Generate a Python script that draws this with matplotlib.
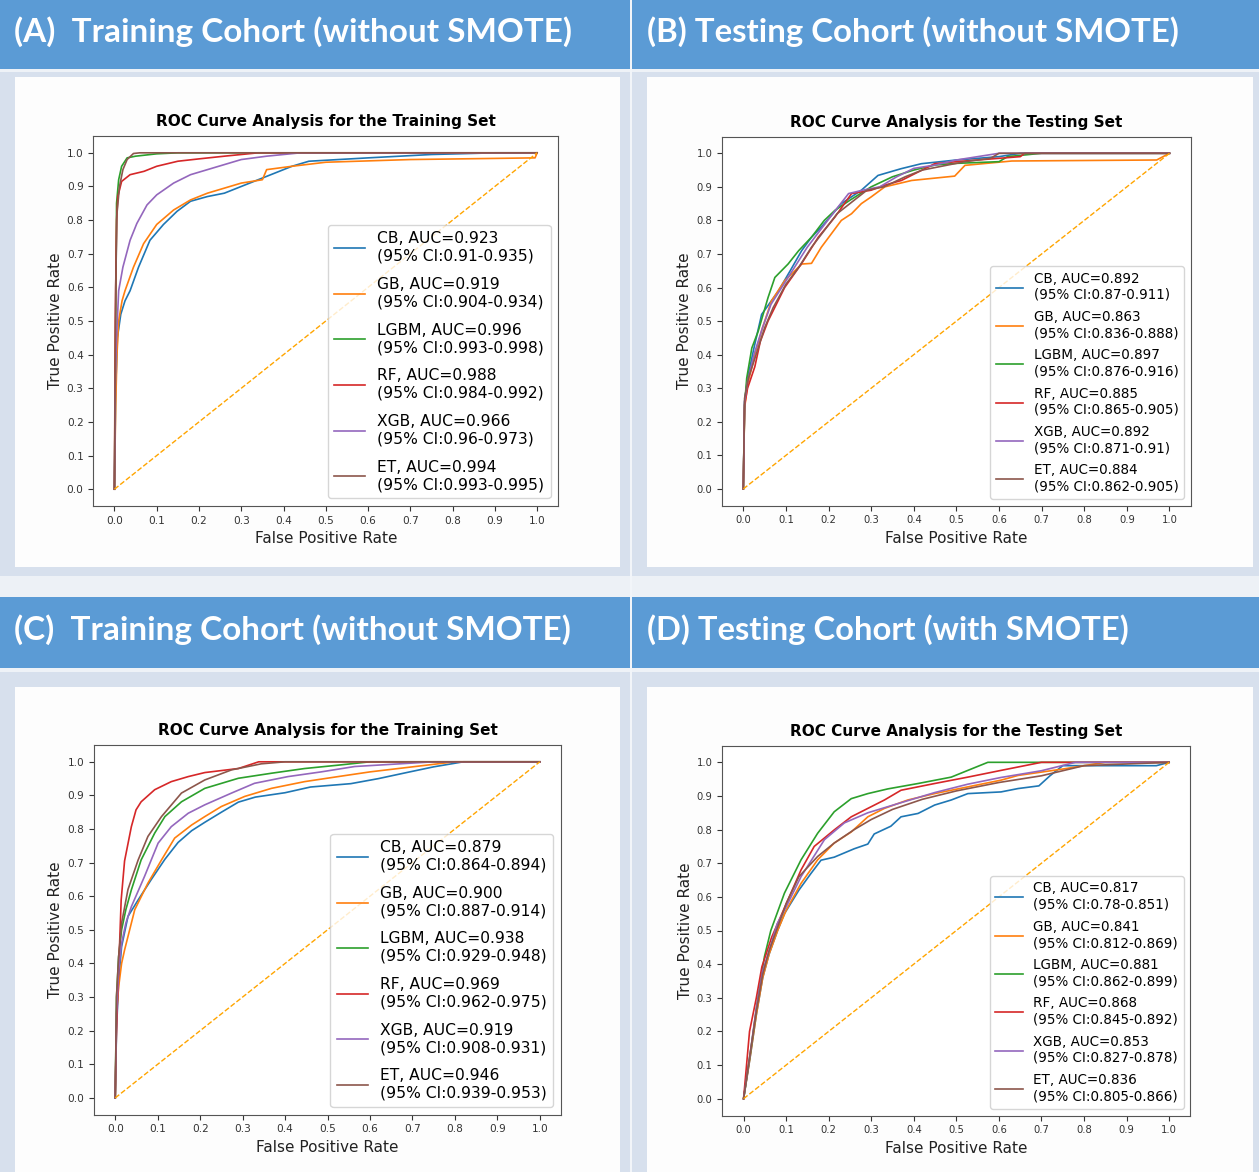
import numpy as np
import matplotlib.pyplot as plt
from matplotlib.patches import Rectangle

W, H = 1259, 1172

models = ["CB", "GB", "LGBM", "RF", "XGB", "ET"]
colors = ["tab:blue", "tab:orange", "tab:green", "tab:red", "tab:purple", "tab:brown"]

headers = ["(A)  Training Cohort (without SMOTE)",
           "(B) Testing Cohort (without SMOTE)",
           "(C)  Training Cohort (without SMOTE)",
           "(D) Testing Cohort (with SMOTE)"]
titles = ["ROC Curve Analysis for the Training Set",
          "ROC Curve Analysis for the Testing Set",
          "ROC Curve Analysis for the Training Set",
          "ROC Curve Analysis for the Testing Set"]

auc_a = [0.923, 0.919, 0.996, 0.988, 0.966, 0.994]
ci_a = ["0.91-0.935", "0.904-0.934", "0.993-0.998", "0.984-0.992", "0.96-0.973", "0.993-0.995"]
auc_b = [0.892, 0.863, 0.897, 0.885, 0.892, 0.884]
ci_b = ["0.87-0.911", "0.836-0.888", "0.876-0.916", "0.865-0.905", "0.871-0.91", "0.862-0.905"]
auc_c = [0.879, 0.900, 0.938, 0.969, 0.919, 0.946]
ci_c = ["0.864-0.894", "0.887-0.914", "0.929-0.948", "0.962-0.975", "0.908-0.931", "0.939-0.953"]
auc_d = [0.817, 0.841, 0.881, 0.868, 0.853, 0.836]
ci_d = ["0.78-0.851", "0.812-0.869", "0.862-0.899", "0.845-0.892", "0.827-0.878", "0.805-0.866"]

# ROC points (fpr, tpr)
# panel A
fpr_a_cb = [0, 0.003, 0.007, 0.015, 0.025, 0.037, 0.057, 0.084, 0.116, 0.148, 0.18, 0.22, 0.26, 0.30, 0.34, 0.36, 0.39, 0.42, 0.46, 0.6, 0.75, 0.9, 1.0]
tpr_a_cb = [0, 0.30, 0.45, 0.52, 0.56, 0.59, 0.66, 0.74, 0.787, 0.826, 0.856, 0.87, 0.88, 0.90, 0.92, 0.93, 0.945, 0.96, 0.975, 0.985, 0.995, 1.0, 1.0]
fpr_a_gb = [0, 0.003, 0.006, 0.01, 0.018, 0.025, 0.045, 0.069, 0.1, 0.14, 0.18, 0.22, 0.26, 0.30, 0.35, 0.36, 0.42, 0.5, 0.7, 0.995, 1.0]
tpr_a_gb = [0, 0.25, 0.40, 0.50, 0.56, 0.59, 0.66, 0.73, 0.787, 0.83, 0.86, 0.88, 0.895, 0.91, 0.92, 0.95, 0.96, 0.972, 0.98, 0.985, 1.0]
fpr_a_lgbm = [0, 0.003, 0.005, 0.01, 0.017, 0.03, 0.05, 0.1, 0.15, 1.0]
tpr_a_lgbm = [0, 0.50, 0.85, 0.92, 0.96, 0.985, 0.99, 0.997, 1.0, 1.0]
fpr_a_rf = [0, 0.002, 0.005, 0.008, 0.017, 0.037, 0.07, 0.1, 0.15, 0.2, 0.26, 0.34, 1.0]
tpr_a_rf = [0, 0.50, 0.80, 0.87, 0.915, 0.935, 0.945, 0.96, 0.975, 0.982, 0.99, 1.0, 1.0]
fpr_a_xgb = [0, 0.002, 0.005, 0.01, 0.02, 0.037, 0.053, 0.077, 0.1, 0.14, 0.18, 0.22, 0.26, 0.3, 0.36, 0.44, 1.0]
tpr_a_xgb = [0, 0.30, 0.45, 0.59, 0.66, 0.74, 0.79, 0.845, 0.875, 0.91, 0.935, 0.95, 0.965, 0.98, 0.99, 1.0, 1.0]
fpr_a_et = [0, 0.003, 0.006, 0.012, 0.02, 0.03, 0.045, 0.06, 1.0]
tpr_a_et = [0, 0.60, 0.82, 0.90, 0.95, 0.98, 0.998, 1.0, 1.0]

# panel B
fpr_b_cb = [0, 0.003, 0.01, 0.025, 0.043, 0.06, 0.082, 0.11, 0.137, 0.16, 0.183, 0.21, 0.23, 0.277, 0.316, 0.37, 0.418, 0.5, 0.6, 0.65, 1.0]
tpr_b_cb = [0, 0.26, 0.33, 0.42, 0.52, 0.55, 0.589, 0.65, 0.71, 0.75, 0.78, 0.82, 0.85, 0.89, 0.934, 0.954, 0.969, 0.98, 0.99, 1.0, 1.0]
fpr_b_gb = [0, 0.003, 0.01, 0.027, 0.045, 0.066, 0.097, 0.137, 0.16, 0.183, 0.23, 0.254, 0.277, 0.3, 0.332, 0.395, 0.496, 0.52, 0.63, 0.97, 1.0]
tpr_b_gb = [0, 0.24, 0.31, 0.40, 0.48, 0.56, 0.62, 0.67, 0.672, 0.72, 0.80, 0.82, 0.85, 0.87, 0.90, 0.919, 0.932, 0.964, 0.977, 0.98, 1.0]
fpr_b_lgbm = [0, 0.003, 0.008, 0.02, 0.035, 0.058, 0.074, 0.105, 0.13, 0.16, 0.19, 0.215, 0.25, 0.3, 0.35, 0.4, 0.45, 0.5, 0.6, 0.62, 0.7, 1.0]
tpr_b_lgbm = [0, 0.25, 0.33, 0.42, 0.47, 0.57, 0.63, 0.67, 0.71, 0.75, 0.80, 0.83, 0.86, 0.90, 0.93, 0.95, 0.965, 0.97, 0.975, 0.99, 1.0, 1.0]
fpr_b_rf = [0, 0.003, 0.01, 0.027, 0.04, 0.058, 0.097, 0.137, 0.176, 0.215, 0.254, 0.3, 0.332, 0.371, 0.41, 0.449, 0.5, 0.55, 0.65, 0.66, 1.0]
tpr_b_rf = [0, 0.25, 0.30, 0.364, 0.44, 0.50, 0.60, 0.672, 0.75, 0.81, 0.88, 0.89, 0.905, 0.919, 0.944, 0.969, 0.975, 0.98, 0.99, 1.0, 1.0]
fpr_b_xgb = [0, 0.003, 0.01, 0.025, 0.045, 0.065, 0.09, 0.12, 0.15, 0.18, 0.21, 0.247, 0.28, 0.32, 0.36, 0.4, 0.45, 0.5, 0.55, 0.6, 1.0]
tpr_b_xgb = [0, 0.26, 0.32, 0.40, 0.48, 0.55, 0.60, 0.66, 0.72, 0.77, 0.82, 0.88, 0.89, 0.90, 0.93, 0.955, 0.965, 0.98, 0.99, 1.0, 1.0]
fpr_b_et = [0, 0.003, 0.012, 0.03, 0.05, 0.07, 0.1, 0.13, 0.16, 0.19, 0.22, 0.26, 0.29, 0.33, 0.38, 0.42, 0.46, 0.52, 0.58, 0.6, 1.0]
tpr_b_et = [0, 0.27, 0.33, 0.40, 0.48, 0.54, 0.61, 0.66, 0.72, 0.77, 0.82, 0.86, 0.89, 0.90, 0.93, 0.95, 0.96, 0.975, 0.985, 1.0, 1.0]

# panel C
fpr_c_cb = [0, 0.003, 0.008, 0.015, 0.03, 0.054, 0.085, 0.117, 0.148, 0.18, 0.211, 0.25, 0.29, 0.33, 0.4, 0.46, 0.555, 0.62, 0.69, 0.75, 0.82, 1.0]
tpr_c_cb = [0, 0.20, 0.35, 0.45, 0.54, 0.589, 0.65, 0.71, 0.76, 0.795, 0.82, 0.85, 0.88, 0.895, 0.908, 0.925, 0.935, 0.95, 0.969, 0.985, 1.0, 1.0]
fpr_c_gb = [0, 0.003, 0.008, 0.015, 0.022, 0.046, 0.077, 0.109, 0.14, 0.18, 0.211, 0.25, 0.305, 0.368, 0.446, 0.525, 0.6, 0.7, 0.8, 1.0]
tpr_c_gb = [0, 0.25, 0.33, 0.40, 0.44, 0.56, 0.639, 0.708, 0.773, 0.812, 0.837, 0.867, 0.897, 0.921, 0.941, 0.956, 0.97, 0.985, 1.0, 1.0]
fpr_c_lgbm = [0, 0.003, 0.008, 0.015, 0.025, 0.038, 0.061, 0.093, 0.117, 0.156, 0.211, 0.29, 0.368, 0.446, 0.525, 0.6, 1.0]
tpr_c_lgbm = [0, 0.30, 0.42, 0.50, 0.56, 0.619, 0.708, 0.788, 0.837, 0.881, 0.921, 0.951, 0.966, 0.98, 0.99, 1.0, 1.0]
fpr_c_rf = [0, 0.002, 0.005, 0.007, 0.014, 0.022, 0.038, 0.049, 0.061, 0.093, 0.132, 0.172, 0.211, 0.29, 0.338, 1.0]
tpr_c_rf = [0, 0.15, 0.28, 0.341, 0.589, 0.705, 0.807, 0.857, 0.881, 0.917, 0.941, 0.956, 0.968, 0.98, 1.0, 1.0]
fpr_c_xgb = [0, 0.003, 0.008, 0.015, 0.025, 0.038, 0.069, 0.101, 0.132, 0.172, 0.211, 0.274, 0.328, 0.407, 0.485, 0.564, 0.75, 1.0]
tpr_c_xgb = [0, 0.25, 0.38, 0.46, 0.52, 0.569, 0.659, 0.758, 0.807, 0.847, 0.872, 0.907, 0.936, 0.956, 0.97, 0.986, 1.0, 1.0]
fpr_c_et = [0, 0.003, 0.008, 0.015, 0.03, 0.054, 0.077, 0.109, 0.156, 0.211, 0.274, 0.344, 0.4, 1.0]
tpr_c_et = [0, 0.30, 0.42, 0.52, 0.62, 0.708, 0.778, 0.837, 0.907, 0.946, 0.976, 0.994, 1.0, 1.0]

# panel D
fpr_d_cb = [0, 0.015, 0.03, 0.045, 0.06, 0.08, 0.096, 0.13, 0.158, 0.182, 0.213, 0.26, 0.292, 0.307, 0.346, 0.37, 0.41, 0.449, 0.488, 0.527, 0.605, 0.645, 0.694, 0.72, 0.75, 0.97, 1.0]
tpr_d_cb = [0, 0.12, 0.25, 0.36, 0.43, 0.50, 0.55, 0.62, 0.669, 0.709, 0.718, 0.743, 0.757, 0.787, 0.81, 0.838, 0.848, 0.873, 0.888, 0.907, 0.912, 0.922, 0.93, 0.96, 0.99, 0.99, 1.0]
fpr_d_gb = [0, 0.015, 0.03, 0.045, 0.06, 0.08, 0.1, 0.135, 0.174, 0.213, 0.253, 0.292, 0.331, 0.386, 0.449, 0.527, 0.605, 0.645, 0.75, 0.85, 1.0]
tpr_d_gb = [0, 0.12, 0.25, 0.36, 0.43, 0.50, 0.56, 0.64, 0.71, 0.76, 0.793, 0.838, 0.863, 0.888, 0.907, 0.927, 0.947, 0.961, 0.98, 1.0, 1.0]
fpr_d_lgbm = [0, 0.017, 0.033, 0.049, 0.064, 0.096, 0.135, 0.174, 0.213, 0.253, 0.292, 0.339, 0.41, 0.488, 0.527, 0.574, 1.0]
tpr_d_lgbm = [0, 0.145, 0.294, 0.422, 0.50, 0.611, 0.71, 0.789, 0.853, 0.892, 0.907, 0.921, 0.937, 0.956, 0.976, 1.0, 1.0]
fpr_d_rf = [0, 0.014, 0.03, 0.043, 0.066, 0.097, 0.135, 0.166, 0.213, 0.253, 0.292, 0.331, 0.37, 0.449, 0.527, 0.605, 0.7, 1.0]
tpr_d_rf = [0, 0.20, 0.30, 0.392, 0.48, 0.57, 0.68, 0.75, 0.799, 0.838, 0.863, 0.888, 0.917, 0.937, 0.956, 0.976, 1.0, 1.0]
fpr_d_xgb = [0, 0.015, 0.03, 0.045, 0.06, 0.079, 0.1, 0.135, 0.19, 0.237, 0.292, 0.37, 0.449, 0.527, 0.605, 0.7, 0.78, 1.0]
tpr_d_xgb = [0, 0.13, 0.27, 0.38, 0.44, 0.52, 0.57, 0.66, 0.77, 0.82, 0.85, 0.88, 0.91, 0.935, 0.955, 0.975, 1.0, 1.0]
fpr_d_et = [0, 0.015, 0.03, 0.045, 0.06, 0.08, 0.1, 0.13, 0.174, 0.213, 0.26, 0.3, 0.35, 0.42, 0.5, 0.6, 0.7, 0.8, 1.0]
tpr_d_et = [0, 0.13, 0.26, 0.37, 0.44, 0.51, 0.58, 0.66, 0.72, 0.76, 0.80, 0.83, 0.86, 0.89, 0.915, 0.94, 0.96, 0.99, 1.0]

panels = [
    (auc_a, ci_a, [(fpr_a_cb, tpr_a_cb), (fpr_a_gb, tpr_a_gb), (fpr_a_lgbm, tpr_a_lgbm),
                   (fpr_a_rf, tpr_a_rf), (fpr_a_xgb, tpr_a_xgb), (fpr_a_et, tpr_a_et)]),
    (auc_b, ci_b, [(fpr_b_cb, tpr_b_cb), (fpr_b_gb, tpr_b_gb), (fpr_b_lgbm, tpr_b_lgbm),
                   (fpr_b_rf, tpr_b_rf), (fpr_b_xgb, tpr_b_xgb), (fpr_b_et, tpr_b_et)]),
    (auc_c, ci_c, [(fpr_c_cb, tpr_c_cb), (fpr_c_gb, tpr_c_gb), (fpr_c_lgbm, tpr_c_lgbm),
                   (fpr_c_rf, tpr_c_rf), (fpr_c_xgb, tpr_c_xgb), (fpr_c_et, tpr_c_et)]),
    (auc_d, ci_d, [(fpr_d_cb, tpr_d_cb), (fpr_d_gb, tpr_d_gb), (fpr_d_lgbm, tpr_d_lgbm),
                   (fpr_d_rf, tpr_d_rf), (fpr_d_xgb, tpr_d_xgb), (fpr_d_et, tpr_d_et)]),
]

BLUE = "#5b9bd5"
PALE = "#d7e0ed"

fig = plt.figure(figsize=(W / 100, H / 100), dpi=100, facecolor=PALE)


def box(x0, y0, x1, y1, color):
    # pixel box, origin top-left
    fig.add_artist(Rectangle((x0 / W, 1 - y1 / H), (x1 - x0) / W, (y1 - y0) / H,
                             transform=fig.transFigure, facecolor=color,
                             edgecolor="none", zorder=-5))


box(0, 0, W, 69, BLUE)
box(0, 69, W, 72, "#eef2f7")
box(0, 576, W, 597, "#edf1f6")
box(0, 597, W, 668, BLUE)
box(0, 668, W, 672, "#eef2f7")
box(630, 0, 632, H, "#f2f5f9")
for x0, y0, x1, y1 in [(15, 77, 620, 567), (647, 77, 1253, 567),
                       (15, 687, 620, H), (647, 687, 1253, H)]:
    box(x0, y0, x1, y1, "#fdfdfd")

# header texts, fitted to their width in the picture
head_pos = [(14, 32, 557), (647, 32, 533), (14, 630, 557), (647, 630, 483)]
head_txt = []
for s, (x, y, w) in zip(headers, head_pos):
    t = fig.text(x / W, 1 - y / H, s, color="white", fontsize=24,
                 family="Lato", fontweight="bold", ha="left", va="center")
    head_txt.append((t, w))

# axes boxes in pixels: left, top, right, bottom
ax_pos = [(93.3, 136, 558.3, 506), (722, 136.5, 1190.8, 505.7),
          (94, 745, 561, 1114.7), (722.3, 745.5, 1190.4, 1115.5)]
leg_fs = [11.2, 9.75, 11.2, 9.75]
leg_sp = [0.85, 0.6, 0.85, 0.6]
tick_fs = [7.6, 7.2, 7.6, 7.2]

for i, (auc, ci, curves) in enumerate(panels):
    l, t, r, b = ax_pos[i]
    ax = fig.add_axes([l / W, 1 - b / H, (r - l) / W, (b - t) / H])
    for m, c, a, cc, (fpr, tpr) in zip(models, colors, auc, ci, curves):
        ax.plot(fpr, tpr, color=c, lw=1.2,
                label=f"{m}, AUC={a:.3f}\n(95% CI:{cc})")
    ax.plot([0, 1], [0, 1], color="orange", linestyle="--", lw=1)
    ax.set_xlim(-0.05, 1.05)
    ax.set_ylim(-0.05, 1.05)
    ticks = np.round(np.arange(0, 1.01, 0.1), 1)
    ax.set_xticks(ticks)
    ax.set_yticks(ticks)
    ax.tick_params(labelsize=tick_fs[i], colors="#333333")
    for sp in ax.spines.values():
        sp.set_color("#555555")
    ax.set_title(titles[i], fontsize=11, fontweight="bold", pad=7)
    ax.set_xlabel("False Positive Rate", fontsize=11, color="#222222")
    ax.set_ylabel("True Positive Rate", fontsize=11, color="#222222", labelpad=3)
    ax.legend(loc="lower right", fontsize=leg_fs[i], labelspacing=leg_sp[i])

fig.canvas.draw()
rend = fig.canvas.get_renderer()
for t, w in head_txt:
    cur = t.get_window_extent(rend).width
    t.set_fontsize(t.get_fontsize() * w / cur)

fig.savefig("out.png", dpi=100, facecolor=fig.get_facecolor())
